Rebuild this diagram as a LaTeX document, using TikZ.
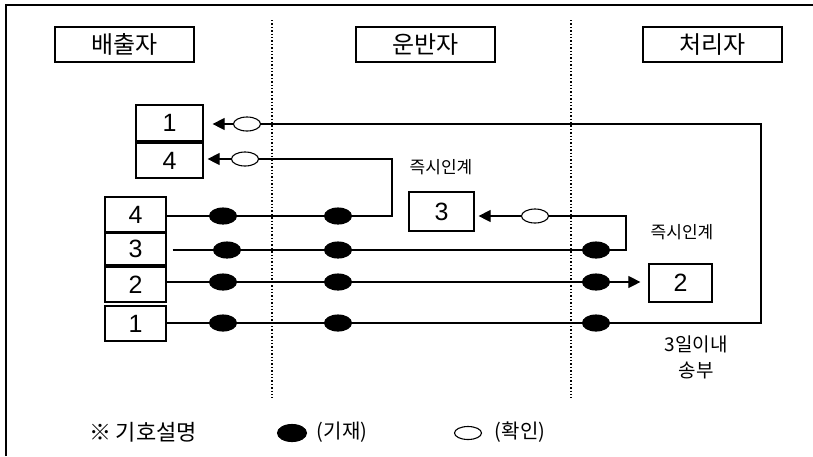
\documentclass[tikz,border=0pt]{standalone}
\usepackage{fontspec}
\setmainfont{Noto Sans CJK KR}
\newfontfamily\digitfont{Liberation Sans}
\usetikzlibrary{shapes.geometric}
\usetikzlibrary{arrows.meta}
\usetikzlibrary{positioning}

\tikzset{
	role/.style={draw, line width=1.2pt, minimum width=139pt, minimum height=35pt, inner sep=0pt, font=\fontsize{24}{24}\selectfont},
	slip/.style={draw, line width=1.2pt, inner sep=0pt, font=\digitfont\fontsize{25}{25}\selectfont},
	write/.style={ellipse, draw, fill=black, minimum width=27pt, minimum height=16pt, inner sep=0pt},
	check/.style={ellipse, draw, fill=white, minimum width=27pt, minimum height=14pt, inner sep=0pt},
	note/.style={font=\fontsize{17}{23}\selectfont, align=center},
	hand/.style={-{Triangle[length=12pt,width=12pt]}},
	keytext/.style={font=\fontsize{20}{20}\selectfont},
}

\begin{document}
\begin{tikzpicture}[x=1pt, y=-1pt, line width=1.1pt]
	\useasboundingbox (0,0) rectangle (813,456);
	\draw (6,456)--(6,5)--(813,5);
	\draw[dotted, line width=1.4pt] (272,20)--(272,398);
	\draw[dotted, line width=1.4pt] (571,20)--(571,398);

	\node[role] (emitter) at (124.5,44.5) {배출자};
	\node[role] (carrier) at (425.5,44.5) {운반자};
	\node[role] (treater) at (712.5,44.5) {처리자};

	% returned copies
	\node[slip, minimum width=67pt, minimum height=36pt] (back1) at (169.5,123) {1};
	\node[slip, minimum width=67pt, minimum height=35pt] (back4) at (169.5,160.5) {4};

	% the four copies
	\node[slip, minimum width=61pt, minimum height=35pt] (form4) at (135.5,214.5) {4};
	\node[slip, minimum width=61pt, minimum height=32pt] (form3) at (135.5,249) {3};
	\node[slip, minimum width=61pt, minimum height=35pt] (form2) at (135.5,284.5) {2};
	\node[slip, minimum width=61pt, minimum height=35pt] (form1) at (135.5,323.5) {1};

	\node[slip, minimum width=65pt, minimum height=39pt] (kept3) at (441.5,211.5) {3};
	\node[slip, minimum width=63pt, minimum height=38pt] (kept2) at (680.5,283) {2};

	% marks
	\node[write] (w41) at (223,216) {};
	\node[write] (w42) at (338,216) {};
	\node[write] (w31) at (227,250) {};
	\node[write] (w32) at (338,250) {};
	\node[write] (w33) at (596,250) {};
	\node[write] (w21) at (223,282) {};
	\node[write] (w22) at (338,282) {};
	\node[write] (w23) at (596,282) {};
	\node[write] (w11) at (223,323) {};
	\node[write] (w12) at (338,323) {};
	\node[write] (w13) at (596,323) {};
	\node[check] (c1) at (247,124) {};
	\node[check] (c4) at (245,159) {};
	\node[check] (c3) at (535,216) {};

	\coordinate (turn4) at (392,216);
	\coordinate (turn3) at (626,250);
	\coordinate (turn1) at (761,323);

	\draw (form4.east|-w41) -- (w41) -- (w42) -- (turn4) |- (c4);
	\draw[hand, shorten >=4pt] (c4) -- (back4.east|-c4);
	\draw ([xshift=6pt]form3.east|-w31) -- (w31) -- (w32) -- (w33) -- (turn3) |- (c3);
	\draw[hand, shorten >=4pt] (c3) -- (kept3.east|-c3);
	\draw (form2.east|-w21) -- (w21) -- (w22) -- (w23);
	\draw[hand, shorten >=8pt] (w23) -- (kept2.west|-w23);
	\draw (form1.east|-w11) -- (w11) -- (w12) -- (w13) -- (turn1) |- (c1);
	\draw[hand, shorten >=9pt] (c1) -- (back1.east|-c1);

	\node[note] (hand3) at (441,167) {즉시인계};
	\node[note] (hand2) at (682,232) {즉시인계};
	\node[note, font=\fontsize{19}{26}\selectfont] (send1) at (696,357) {3일이내\\송부};

	% legend
	\node[keytext, font=\fontsize{22}{22}\selectfont] (legend) at (143,432) {※ 기호설명};
	\node[ellipse, draw, fill=black, minimum width=29pt, minimum height=17pt, inner sep=0pt] (keyw) at (292,433) {};
	\node[keytext] (keywt) at (342,432) {(기재)};
	\node[ellipse, draw, minimum width=27pt, minimum height=13pt, inner sep=0pt] (keyc) at (468,433) {};
	\node[keytext] (keyct) at (520,432) {(확인)};
\end{tikzpicture}
\end{document}
